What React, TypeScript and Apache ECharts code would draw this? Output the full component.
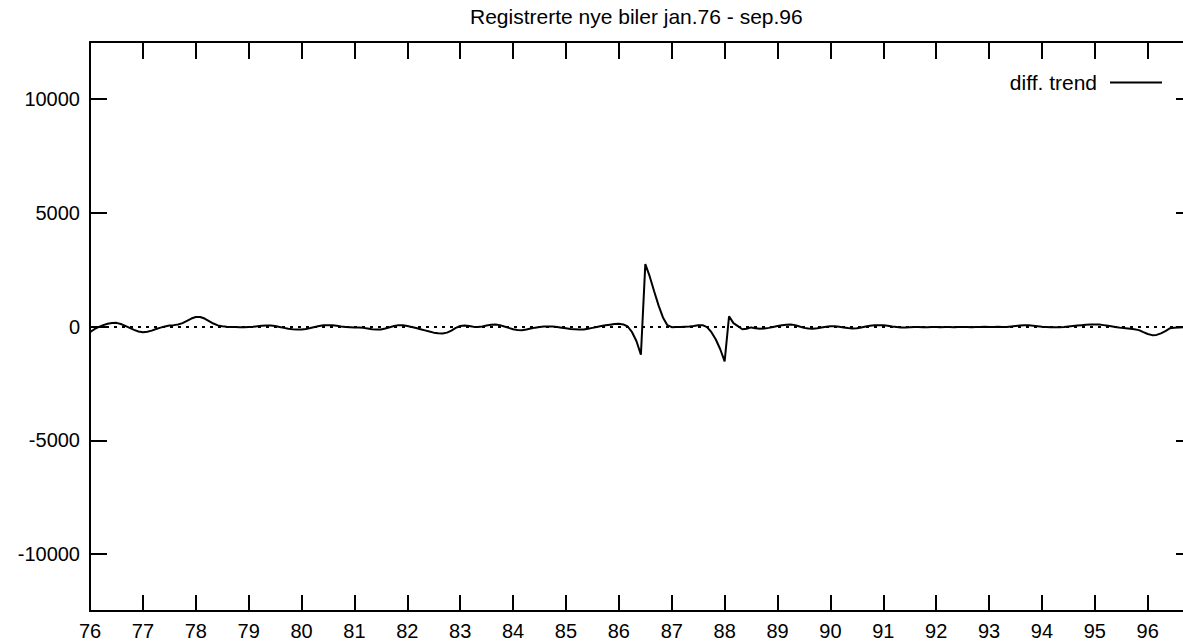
import React, { useEffect, useRef } from "react";
import * as echarts from "echarts";

// Monthly "diff. trend" values, Jan 1976 .. Sep 1996
const y1976 = [-250, -120, -20, 60, 120, 150, 160, 110, 30, -60, -150, -220];
const y1977 = [-250, -230, -180, -110, -50, 0, 40, 60, 90, 150, 250, 350];
const y1978 = [420, 420, 350, 240, 130, 50, 10, -10, -20, -20, -30, -30];
const y1979 = [-20, -10, 10, 30, 40, 40, 20, -20, -60, -100, -120, -130];
const y1980 = [-130, -110, -70, -20, 20, 50, 60, 50, 30, 0, -20, -30];
const y1981 = [-40, -40, -60, -90, -120, -130, -130, -90, -30, 20, 60, 50];
const y1982 = [20, -20, -70, -120, -170, -220, -270, -300, -310, -270, -180, -60];
const y1983 = [20, 40, 20, -10, -20, 0, 40, 80, 90, 60, 0, -60];
const y1984 = [-120, -150, -160, -130, -90, -50, -20, 0, 0, 0, -20, -50];
const y1985 = [-80, -110, -120, -130, -130, -100, -60, -20, 20, 50, 80, 110];
const y1986 = [120, 90, 0, -250, -650, -1240, 2740, 2200, 1550, 930, 400, 60];
const y1987 = [-30, -20, -20, -10, 0, 20, 50, 60, -30, -250, -570, -1000];
const y1988 = [-1530, 450, 150, 20, -120, -100, -40, -80, -100, -90, -60, -20];
const y1989 = [20, 50, 80, 90, 60, 0, -60, -90, -100, -80, -40, -10];
const y1990 = [10, 10, -10, -40, -70, -90, -80, -40, 0, 30, 50, 60];
const y1991 = [50, 30, 0, -20, -40, -40, -30, -20, -20, -30, -30, -20];
const y1992 = [-20, -30, -20, -20, -30, -20, -20, -20, -30, -20, -20, -10];
const y1993 = [-20, -20, -10, -20, -20, 0, 20, 40, 60, 50, 30, 10];
const y1994 = [-10, -20, -30, -30, -30, -20, 0, 20, 40, 60, 80, 90];
const y1995 = [90, 90, 60, 30, 0, -30, -60, -80, -100, -120, -160, -250];
const y1996 = [-330, -380, -370, -300, -200, -80, -50, -40, -30];

const years = [
  y1976, y1977, y1978, y1979, y1980, y1981, y1982, y1983, y1984, y1985, y1986,
  y1987, y1988, y1989, y1990, y1991, y1992, y1993, y1994, y1995, y1996,
];
const firstYear = 76;

const xTicks = [76, 77, 78, 79, 80, 81, 82, 83, 84, 85, 86, 87, 88, 89, 90, 91, 92, 93, 94, 95, 96];
const yTicks = [-10000, -5000, 0, 5000, 10000];

const titleText = "Registrerte nye biler jan.76 - sep.96";
const seriesName = "diff. trend";

export default function App() {
  const ref = useRef<HTMLDivElement>(null);
  useEffect(() => {
    if (!ref.current) return;
    const chart = echarts.init(ref.current, null, { renderer: "svg" });
    const data: [number, number][] = [];
    years.forEach((arr, yi) => {
      arr.forEach((v, m) => {
        data.push([firstYear + yi + m / 12, v]);
      });
    });
    const xMax = data[data.length - 1][0];
    const font = "Liberation Sans, Arial, Helvetica, sans-serif";
    const axisLine = { show: true, onZero: false, lineStyle: { color: "#000", width: 2 } };
    const tickStyle = { color: "#000", width: 2 };
    const fmt = (v: number) => String(v);
    chart.setOption({
      animation: false,
      backgroundColor: "#fff",
      title: {
        text: titleText,
        left: 465,
        top: 1,
        textStyle: { fontFamily: font, fontSize: 21, fontWeight: "normal", color: "#000" },
      },
      legend: {
        data: [seriesName],
        right: 16,
        top: 67,
        align: "right",
        icon: "rect",
        itemWidth: 52,
        itemHeight: 2,
        textStyle: { fontFamily: font, fontSize: 21, color: "#000", padding: [0, 8, 0, 0] },
      },
      grid: { left: 90, right: 0, top: 42, bottom: 31, containLabel: false },
      xAxis: [
        {
          type: "value",
          min: firstYear,
          max: xMax,
          position: "bottom",
          axisLine,
          axisTick: { show: true, inside: true, length: 16, customValues: xTicks, lineStyle: tickStyle },
          axisLabel: { customValues: xTicks, formatter: fmt, margin: 10, fontFamily: font, fontSize: 20, color: "#000" },
          splitLine: { show: false },
        },
        {
          type: "value",
          min: firstYear,
          max: xMax,
          position: "top",
          axisLine,
          axisTick: { show: true, inside: true, length: 17, customValues: xTicks, lineStyle: tickStyle },
          axisLabel: { show: false },
          splitLine: { show: false },
        },
      ],
      yAxis: [
        {
          type: "value",
          min: -12500,
          max: 12500,
          position: "left",
          axisLine,
          axisTick: { show: true, inside: true, length: 17, customValues: yTicks, lineStyle: tickStyle },
          axisLabel: { customValues: yTicks, formatter: fmt, margin: 10, fontFamily: font, fontSize: 20, color: "#000" },
          splitLine: { show: false },
        },
        {
          type: "value",
          min: -12500,
          max: 12500,
          position: "right",
          axisLine: { show: false, onZero: false },
          axisTick: { show: true, inside: true, length: 7, customValues: yTicks, lineStyle: tickStyle },
          axisLabel: { show: false },
          splitLine: { show: false },
        },
      ],
      series: [
        {
          name: seriesName,
          type: "line",
          data,
          showSymbol: false,
          symbol: "none",
          lineStyle: { color: "#000", width: 2 },
          itemStyle: { color: "#000" },
          markLine: {
            silent: true,
            symbol: ["none", "none"],
            label: { show: false },
            lineStyle: { color: "#000", width: 2, type: [3, 5] },
            data: [{ yAxis: 0 }],
          },
        },
      ],
    });
    return () => chart.dispose();
  }, []);
  return (
    <div
      ref={ref}
      style={{ position: "absolute", left: 0, top: 0, width: 1183, height: 642 }}
    />
  );
}
